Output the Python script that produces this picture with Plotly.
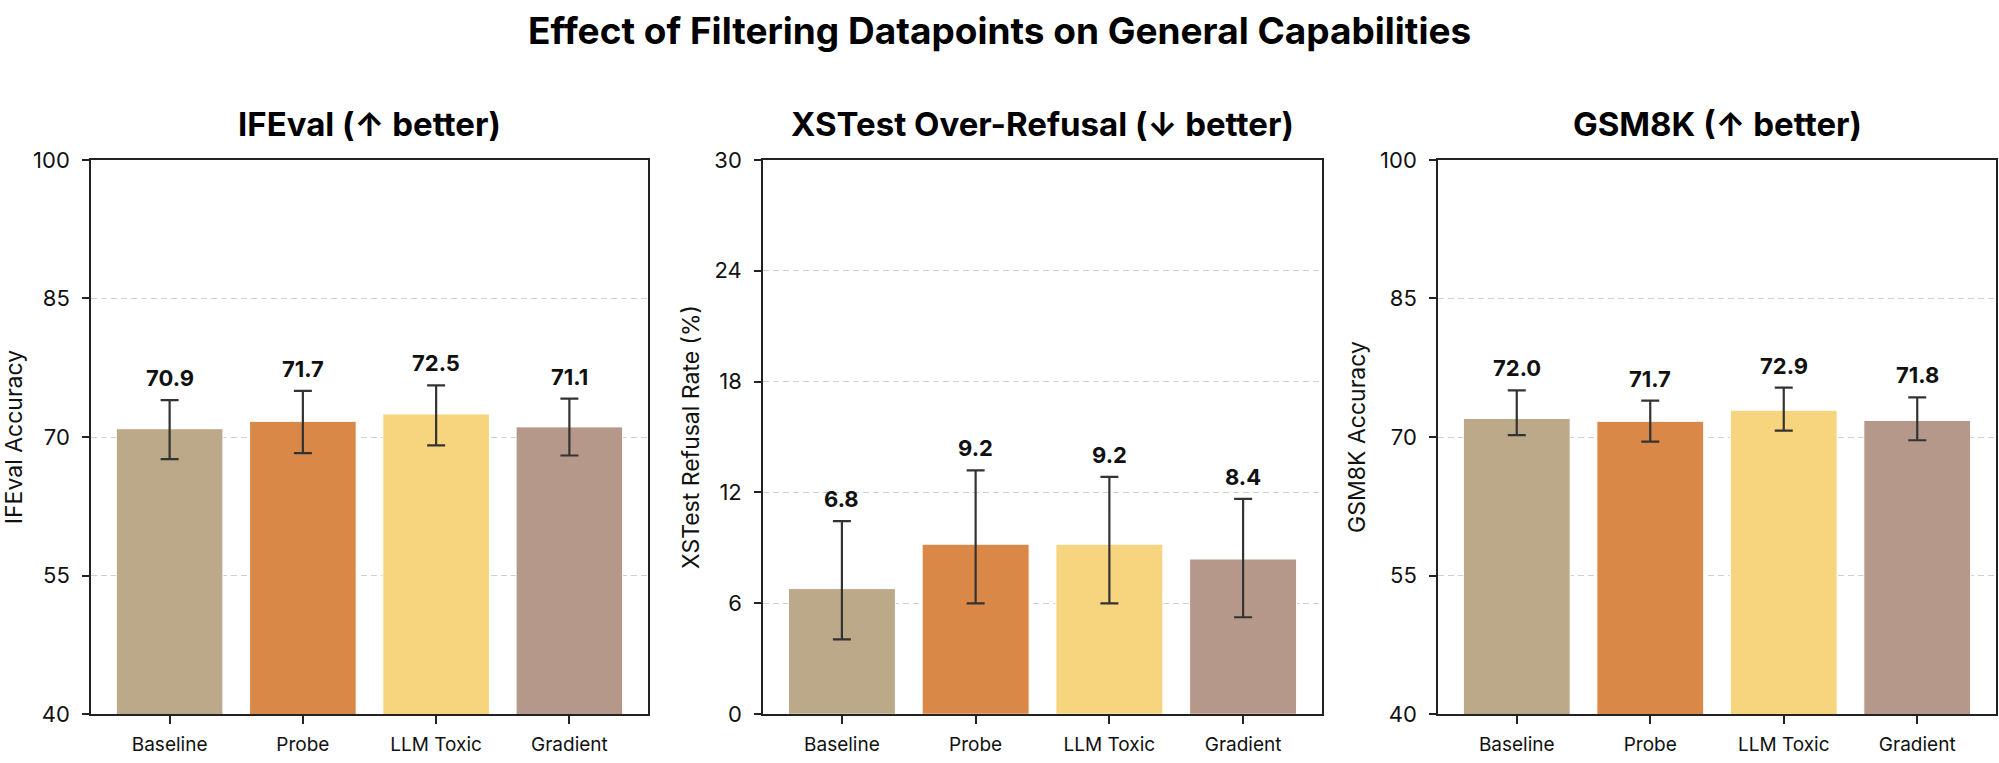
import plotly.graph_objects as go
from plotly.subplots import make_subplots

# data
methods = ["Baseline", "Probe", "LLM Toxic", "Gradient"]
bar_colors = ["#BBA98A", "#DA8848", "#F7D57E", "#B59889"]

ifeval = [70.9, 71.7, 72.5, 71.1]
ifeval_up = [3.1, 3.3, 3.1, 3.05]
ifeval_dn = [3.3, 3.45, 3.4, 3.1]

xstest = [6.8, 9.2, 9.2, 8.4]
xstest_up = [3.65, 4.0, 3.65, 3.25]
xstest_dn = [2.75, 3.2, 3.2, 3.15]

gsm8k = [72.0, 71.7, 72.9, 71.8]
gsm8k_up = [3.05, 2.25, 2.45, 2.5]
gsm8k_dn = [1.8, 2.2, 2.2, 2.15]

panels = [
    ("IFEval (↑ better)", "IFEval Accuracy", ifeval, ifeval_up, ifeval_dn, [40, 100], [40, 55, 70, 85, 100]),
    ("XSTest Over-Refusal (↓ better)", "XSTest Refusal Rate (%)", xstest, xstest_up, xstest_dn, [0, 30], [0, 6, 12, 18, 24, 30]),
    ("GSM8K (↑ better)", "GSM8K Accuracy", gsm8k, gsm8k_up, gsm8k_dn, [40, 100], [40, 55, 70, 85, 100]),
]

W, H = 1999, 763


def px_x(p):
    return p / W


def px_y(p):
    return 1 - p / H


x_dom = [(px_x(91), px_x(648)), (px_x(763), px_x(1322)), (px_x(1438), px_x(1996))]
y_dom = (px_y(726), px_y(152))

FONT = "Inter"
fig = make_subplots(rows=1, cols=3)

annotations = []
for i, (title, ytitle, vals, up, dn, yr, ticks) in enumerate(panels):
    col = i + 1
    fig.add_trace(go.Bar(
        x=methods, y=vals, width=0.8,
        marker=dict(color=bar_colors, line=dict(color="white", width=1)),
        error_y=dict(type="data", symmetric=False, array=up, arrayminus=dn,
                     color="#333333", thickness=2.2, width=9),
        showlegend=False, hoverinfo="x+y",
    ), row=1, col=col)

    axn = "" if i == 0 else str(i + 1)
    for m, v, e in zip(methods, vals, up):
        annotations.append(dict(
            x=m, y=v + e, xref="x" + axn, yref="y" + axn,
            text=f"<b>{v:.1f}</b>", showarrow=False, yanchor="bottom", yshift=7,
            font=dict(family=FONT, size=22, color="#111111"),
        ))
    annotations.append(dict(
        x=sum(x_dom[i]) / 2, y=px_y(115), xref="paper", yref="paper",
        text=f"<b>{title}</b>", showarrow=False, xanchor="center", yanchor="middle",
        font=dict(family=FONT, size=33, color="black"),
    ))

    fig.update_xaxes(
        domain=x_dom[i], range=[-0.59, 3.59], type="category",
        showline=True, mirror=True, linecolor="#222222", linewidth=1.6,
        ticks="outside", ticklen=8, tickwidth=1.6, tickcolor="#222222",
        ticklabelstandoff=4, showgrid=False,
        tickfont=dict(family=FONT, size=19, color="#111111"),
        row=1, col=col,
    )
    fig.update_yaxes(
        domain=y_dom, range=yr, tickvals=ticks,
        showline=True, mirror=True, linecolor="#222222", linewidth=1.6,
        ticks="outside", ticklen=7, tickwidth=1.6, tickcolor="#222222",
        ticklabelstandoff=8, zeroline=False,
        showgrid=True, gridcolor="#d0d0d0", gridwidth=1.2, griddash="6px,4px",
        tickfont=dict(family=FONT, size=22, color="#111111"),
        title=dict(text=ytitle, standoff=8, font=dict(family=FONT, size=23, color="#111111")),
        row=1, col=col,
    )

annotations.append(dict(
    x=0.5, y=px_y(18), xref="paper", yref="paper",
    text="<b>Effect of Filtering Datapoints on General Capabilities</b>",
    showarrow=False, xanchor="center", yanchor="middle",
    font=dict(family=FONT, size=37, color="black"),
))

fig.update_layout(
    width=W, height=H,
    margin=dict(l=0, r=0, t=0, b=0),
    plot_bgcolor="white", paper_bgcolor="white",
    annotations=annotations,
    bargap=0.2,
)

# drop the browser's default body margin so the figure sits flush in the window
fig.write_html("out.html", config={"displayModeBar": False},
               post_script="document.body.style.margin = '0';")
